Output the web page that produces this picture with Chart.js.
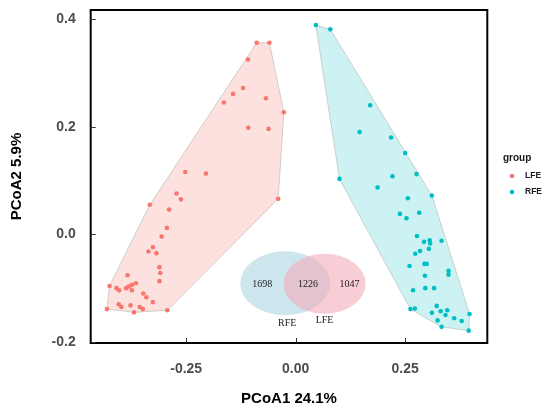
<!DOCTYPE html>
<html lang="en">
<head>
<meta charset="UTF-8">
<title>PCoA</title>
<script src="https://cdn.jsdelivr.net/npm/chart.js"></script>
<style>
    html, body { margin: 0; padding: 0; background: #fff; }
    .contenedorGrafica { width: 550px; height: 415px; position: relative; }
</style>
</head>
<body>
<div class="contenedorGrafica"><canvas id="pcoaChart"></canvas></div>
<script>
// grupos y colores
const grupos = ['LFE', 'RFE'];
const coloresGrupo = ['#F8766D', '#00BFC4'];

// coordenadas PCoA
const lfeX = [-0.089, -0.060, -0.109, -0.120, -0.143, -0.164, -0.068, -0.027, -0.108, -0.062,
    -0.252, -0.205, -0.040, -0.272, -0.262, -0.333, -0.289, -0.294, -0.306, -0.326,
    -0.336, -0.318, -0.311, -0.309, -0.311, -0.384, -0.425, -0.409, -0.403, -0.387,
    -0.381, -0.374, -0.365, -0.374, -0.348, -0.341, -0.326, -0.404, -0.398, -0.377,
    -0.356, -0.349, -0.369, -0.431, -0.293];
const lfeY = [0.356, 0.356, 0.325, 0.272, 0.261, 0.245, 0.253, 0.227, 0.198, 0.196,
    0.116, 0.113, 0.066, 0.076, 0.065, 0.055, 0.046, 0.012, -0.004, -0.024,
    -0.032, -0.035, -0.061, -0.072, -0.087, -0.076, -0.096, -0.100, -0.104, -0.100,
    -0.097, -0.094, -0.091, -0.104, -0.110, -0.117, -0.126, -0.130, -0.135, -0.132,
    -0.135, -0.139, -0.145, -0.139, -0.141];

const rfeX = [0.046, 0.079, 0.170, 0.146, 0.218, 0.250, 0.276, 0.221, 0.100, 0.187,
    0.311, 0.256, 0.238, 0.253, 0.282, 0.277, 0.293, 0.306, 0.307, 0.333,
    0.304, 0.284, 0.273, 0.260, 0.294, 0.299, 0.295, 0.349, 0.349, 0.268,
    0.296, 0.316, 0.262, 0.272, 0.322, 0.331, 0.346, 0.342, 0.311, 0.362,
    0.379, 0.324, 0.333, 0.397, 0.395];
const rfeY = [0.389, 0.381, 0.240, 0.190, 0.180, 0.151, 0.112, 0.108, 0.103, 0.087,
    0.072, 0.067, 0.038, 0.030, 0.040, -0.003, -0.014, -0.011, -0.017, -0.012,
    -0.027, -0.031, -0.036, -0.059, -0.055, -0.055, -0.077, -0.068, -0.075, -0.104,
    -0.100, -0.100, -0.139, -0.138, -0.133, -0.143, -0.141, -0.150, -0.146, -0.156,
    -0.161, -0.160, -0.172, -0.148, -0.179];

// ejes
const xTicks = [-0.25, 0, 0.25];
const xTickLabels = ['-0.25', '0.00', '0.25'];
const yTicks = [-0.2, 0, 0.2, 0.4];
const yTickLabels = ['-0.2', '0.0', '0.2', '0.4'];

// diagrama de Venn (recuadro)
const vennConjuntos = ['RFE', 'LFE'];
const vennConteos = [1698, 1226, 1047];

function puntos(xs, ys) {
    return xs.map((x, i) => ({ x: x, y: ys[i] }));
}

// envolvente convexa (monotone chain)
function envolvente(pts) {
    const p = pts.slice().sort((a, b) => a.x - b.x || a.y - b.y);
    const cross = (o, a, b) => (a.x - o.x) * (b.y - o.y) - (a.y - o.y) * (b.x - o.x);
    const lower = [];
    for (const q of p) {
        while (lower.length >= 2 && cross(lower[lower.length - 2], lower[lower.length - 1], q) <= 0) lower.pop();
        lower.push(q);
    }
    const upper = [];
    for (let i = p.length - 1; i >= 0; i--) {
        const q = p[i];
        while (upper.length >= 2 && cross(upper[upper.length - 2], upper[upper.length - 1], q) <= 0) upper.pop();
        upper.push(q);
    }
    const h = lower.slice(0, -1).concat(upper.slice(0, -1));
    h.push(h[0]);
    return h;
}

const datosGrupo = [puntos(lfeX, lfeY), puntos(rfeX, rfeY)];
const rellenos = ['rgba(248,118,109,0.22)', 'rgba(0,191,196,0.2)'];

const datasets = [];
grupos.forEach((g, i) => {
    datasets.push({
        label: g + ' hull',
        data: envolvente(datosGrupo[i]),
        showLine: true,
        fill: 'shape',
        backgroundColor: rellenos[i],
        borderColor: '#c4c4c4',
        borderWidth: 0.8,
        pointRadius: 0,
        order: 2
    });
});
grupos.forEach((g, i) => {
    datasets.push({
        label: g,
        data: datosGrupo[i],
        backgroundColor: coloresGrupo[i],
        borderColor: coloresGrupo[i],
        pointRadius: 2.3,
        borderWidth: 0,
        order: 1
    });
});

// marco, marcas hacia dentro, venn y leyenda
const extras = {
    id: 'extras',
    afterDatasetsDraw(chart) {
        const ctx = chart.ctx;
        const xs = chart.scales.x, ys = chart.scales.y;

        // venn
        const cb = { x: xs.getPixelForValue(-0.024), y: ys.getPixelForValue(-0.091) };
        const cp = { x: xs.getPixelForValue(0.066), y: ys.getPixelForValue(-0.092) };
        ctx.save();
        ctx.fillStyle = 'rgba(205,230,238,1)';
        ctx.beginPath();
        ctx.ellipse(cb.x, cb.y, 45, 32, 0, 0, Math.PI * 2);
        ctx.fill();
        ctx.fillStyle = 'rgba(243,172,187,0.6)';
        ctx.beginPath();
        ctx.ellipse(cp.x, cp.y, 41, 30, 0, 0, Math.PI * 2);
        ctx.fill();
        ctx.fillStyle = '#222';
        ctx.font = '10px "Liberation Serif"';
        ctx.textAlign = 'center';
        ctx.textBaseline = 'middle';
        ctx.fillText(String(vennConteos[0]), cb.x - 23, cb.y + 1);
        ctx.fillText(String(vennConteos[1]), (cb.x + cp.x) / 2 + 3, cb.y + 1);
        ctx.fillText(String(vennConteos[2]), cp.x + 25, cb.y + 1);
        ctx.fillText(vennConjuntos[0], cb.x + 2, cb.y + 40);
        ctx.fillText(vennConjuntos[1], cp.x, cb.y + 37);
        ctx.restore();
    },
    afterDraw(chart) {
        const ctx = chart.ctx;
        const a = chart.chartArea;
        const xs = chart.scales.x, ys = chart.scales.y;
        ctx.save();
        ctx.strokeStyle = '#000';
        ctx.lineWidth = 2;
        ctx.strokeRect(a.left, a.top, a.right - a.left, a.bottom - a.top);
        ctx.lineWidth = 1;
        ctx.strokeStyle = '#333';
        ctx.beginPath();
        xTicks.forEach(v => {
            const px = Math.round(xs.getPixelForValue(v)) + 0.5;
            ctx.moveTo(px, a.bottom);
            ctx.lineTo(px, a.bottom - 5);
        });
        yTicks.forEach(v => {
            const py = Math.round(ys.getPixelForValue(v)) + 0.5;
            ctx.moveTo(a.left, py);
            ctx.lineTo(a.left + 5, py);
        });
        ctx.stroke();

        // leyenda
        ctx.fillStyle = '#1a1a1a';
        ctx.textAlign = 'left';
        ctx.textBaseline = 'middle';
        ctx.font = 'bold 10px "Liberation Sans"';
        ctx.fillText('group', 503, 158);
        ctx.font = 'bold 8.5px "Liberation Sans"';
        grupos.forEach((g, i) => {
            const y = 176 + i * 16;
            ctx.fillStyle = coloresGrupo[i];
            ctx.beginPath();
            ctx.arc(512, y, 2.3, 0, Math.PI * 2);
            ctx.fill();
            ctx.fillStyle = '#1a1a1a';
            ctx.fillText(g, 525, y);
        });
        ctx.restore();
    }
};

const fuenteTicks = { family: '"Liberation Sans", Arial, sans-serif', size: 14, weight: 'bold' };
const fuenteTitulo = { family: '"Liberation Sans", Arial, sans-serif', size: 15, weight: 'bold' };

new Chart(document.getElementById('pcoaChart').getContext('2d'), {
    type: 'scatter',
    data: { datasets: datasets },
    plugins: [extras],
    options: {
        responsive: true,
        maintainAspectRatio: false,
        animation: false,
        layout: { padding: { top: 10, right: 62.7, left: 0, bottom: 0 } },
        plugins: { legend: { display: false }, tooltip: { enabled: false } },
        scales: {
            x: {
                type: 'linear',
                min: -0.468,
                max: 0.4375,
                afterFit: s => { s.height = 72; s.paddingLeft = 0; s.paddingRight = 0; },
                afterBuildTicks: s => { s.ticks = xTicks.map(v => ({ value: v })); },
                grid: { display: false, drawTicks: false },
                border: { display: false },
                ticks: {
                    color: '#4d4d4d',
                    font: fuenteTicks,
                    padding: 18,
                    maxRotation: 0,
                    callback: (v, i) => xTickLabels[i]
                },
                title: { display: true, text: 'PCoA1 24.1%', color: '#000', font: fuenteTitulo, padding: { top: 0, bottom: 7 } }
            },
            y: {
                type: 'linear',
                min: -0.202,
                max: 0.417,
                afterFit: s => { s.width = 90.7; s.paddingTop = 0; s.paddingBottom = 0; },
                afterBuildTicks: s => { s.ticks = yTicks.map(v => ({ value: v })); },
                grid: { display: false, drawTicks: false },
                border: { display: false },
                ticks: {
                    color: '#4d4d4d',
                    font: fuenteTicks,
                    padding: 15,
                    callback: (v, i) => yTickLabels[i]
                },
                title: { display: true, text: 'PCoA2 5.9%', color: '#000', font: fuenteTitulo, padding: { top: 8, bottom: 0 } }
            }
        }
    }
});
</script>
</body>
</html>
